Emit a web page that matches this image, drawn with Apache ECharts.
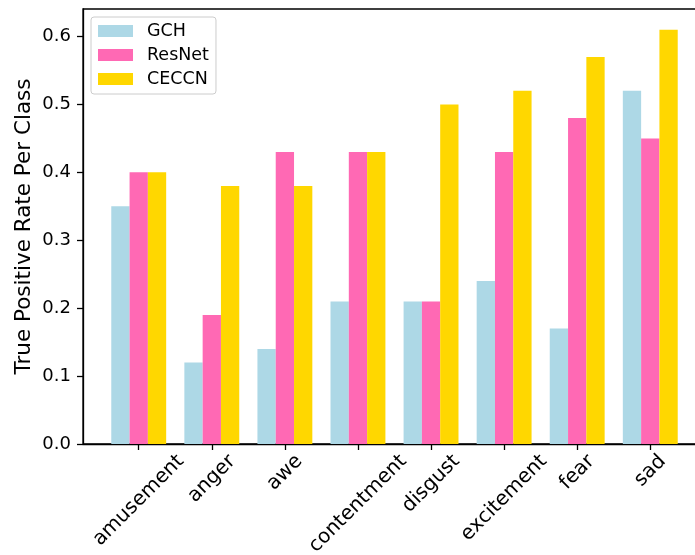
<!DOCTYPE html>
<html>
<head>
<meta charset="utf-8">
<script src="https://cdn.jsdelivr.net/npm/echarts@6/dist/echarts.min.js"></script>
<style>
  html, body { margin: 0; padding: 0; background: #fff; }
  #chart { width: 695px; height: 555px; }
</style>
</head>
<body>
<div id="chart"></div>
<script>
const categories = ["amusement", "anger", "awe", "contentment", "disgust", "excitement", "fear", "sad"];
const gch = [0.35, 0.12, 0.14, 0.21, 0.21, 0.24, 0.17, 0.52];
const resnet = [0.40, 0.19, 0.43, 0.43, 0.21, 0.43, 0.48, 0.45];
const ceccn = [0.40, 0.38, 0.38, 0.43, 0.50, 0.52, 0.57, 0.61];
const yTicks = [0, 0.1, 0.2, 0.3, 0.4, 0.5, 0.6];

document.addEventListener("DOMContentLoaded", function () {
    let chart = echarts.init(document.getElementById("chart"));

    const font = "DejaVu Sans";
    const xFontSize = 20;

    // matplotlib centres the rotated label box under the tick, so pad each label by its length
    let ctx = document.createElement("canvas").getContext("2d");
    ctx.font = xFontSize + "px '" + font + "'";
    let rich = {};
    categories.forEach((c, i) => {
        let L = ctx.measureText(c).width;
        let H = xFontSize * 1.164;
        let p = (L + H) / 2;
        rich["c" + i] = {
            fontSize: xFontSize,
            fontFamily: font,
            color: "#000",
            padding: [p, p, 0, 0]
        };
    });

    const idx = categories.map((c, i) => i);
    const toData = arr => arr.map((v, i) => [i, v]);

    let option = {
        animation: false,
        textStyle: { fontFamily: font },
        grid: {
            left: 83,
            top: 9,
            right: -11,
            bottom: 111,
            outerBoundsMode: "none",
            containLabel: false,
            show: true,
            borderColor: "#000",
            borderWidth: 1.3,
            backgroundColor: "transparent"
        },
        legend: {
            orient: "vertical",
            left: 91,
            top: 17,
            data: ["GCH", "ResNet", "CECCN"],
            icon: "rect",
            itemWidth: 35,
            itemHeight: 12,
            itemGap: 6,
            padding: [5, 7, 6, 7],
            borderColor: "#cccccc",
            borderWidth: 1,
            borderRadius: 3,
            backgroundColor: "rgba(255,255,255,0.8)",
            textStyle: {
                fontSize: 17.5,
                fontFamily: font,
                color: "#000",
                padding: [0, 0, 0, 9]
            }
        },
        xAxis: {
            type: "value",
            min: -0.7625,
            max: 7.7625,
            splitLine: { show: false },
            axisLine: { show: true, lineStyle: { color: "#000", width: 1.3 } },
            axisTick: {
                show: true,
                length: 6,
                customValues: idx,
                lineStyle: { color: "#000", width: 1.3 }
            },
            axisLabel: {
                customValues: idx,
                rotate: 45,
                align: "center",
                verticalAlign: "middle",
                margin: 6,
                fontSize: xFontSize,
                color: "#000",
                formatter: function (v) {
                    let i = Math.round(v);
                    return "{c" + i + "|" + categories[i] + "}";
                },
                rich: rich
            }
        },
        yAxis: {
            type: "value",
            min: 0,
            max: 0.6405,
            interval: 0.1,
            name: "True Positive Rate Per Class",
            nameLocation: "middle",
            nameGap: 48,
            nameMoveOverlap: false,
            nameTextStyle: { fontSize: 21.5, fontFamily: font, color: "#000" },
            splitLine: { show: false },
            axisLine: { show: true, onZero: false, lineStyle: { color: "#000", width: 1.3 } },
            axisTick: { show: true, length: 6, lineStyle: { color: "#000", width: 1.3 } },
            axisLabel: {
                fontSize: 18,
                color: "#000",
                margin: 12,
                showMaxLabel: false,
                formatter: v => (yTicks.some(t => Math.abs(t - v) < 1e-9) ? v.toFixed(1) : "")
            }
        },
        series: [
            {
                name: "GCH",
                type: "bar",
                data: toData(gch),
                barWidth: 18.3,
                barGap: "0%",
                itemStyle: { color: "#ADD8E6" }
            },
            {
                name: "ResNet",
                type: "bar",
                data: toData(resnet),
                barWidth: 18.3,
                barGap: "0%",
                itemStyle: { color: "#FF69B4" }
            },
            {
                name: "CECCN",
                type: "bar",
                data: toData(ceccn),
                barWidth: 18.3,
                barGap: "0%",
                itemStyle: { color: "#FFD700" }
            }
        ]
    };
    chart.setOption(option);
});
</script>
</body>
</html>
